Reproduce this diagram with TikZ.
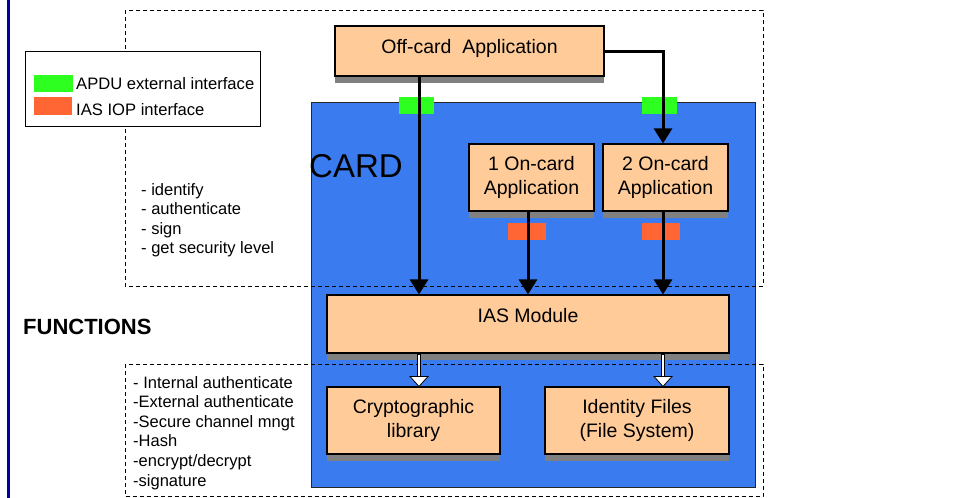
\documentclass[tikz,border=0pt]{standalone}
\usepackage{fontspec}
\setmainfont{Liberation Sans}
\usetikzlibrary{arrows.meta,shadows,calc}
\definecolor{peach}{RGB}{255,204,153}
\definecolor{cardblue}{RGB}{58,123,240}
\definecolor{apdugreen}{RGB}{45,255,32}
\definecolor{ioporange}{RGB}{255,102,51}
\definecolor{navyline}{RGB}{0,0,160}
\definecolor{shadowgray}{RGB}{128,128,128}
\tikzset{
  appbox/.style={draw=black, line width=1.1pt, fill=peach, inner sep=0pt, align=center,
    font=\fontsize{19.5}{24.5}\selectfont,
    drop shadow={shadow xshift=0pt, shadow yshift=-7pt, fill=shadowgray, opacity=1}},
  listtext/.style={inner sep=0pt, align=left, anchor=north west, font=\fontsize{16.5}{19.6}\selectfont},
  legtext/.style={inner sep=0pt, anchor=base west, font=\fontsize{16.6}{19}\selectfont},
  dashbox/.style={draw=black, line width=0.9pt, dash pattern=on 4pt off 3pt},
  flow/.style={line width=3pt, -{Triangle[width=18pt,length=15pt]}},
  hollowshaft/.style={line width=4.2pt, black},
  hollowinner/.style={line width=2.3pt, white},
  hollowhead/.style={line width=0.8pt, draw=black, fill=white, line join=miter},
}
\begin{document}
\begin{tikzpicture}[x=1pt,y=-1pt]
\useasboundingbox (0,0) rectangle (959,498);
% left navy rule
\draw[navyline, line width=2.2pt] (8.5,0) -- (8.5,498);
% card
\node[draw=black!85, line width=0.9pt, fill=cardblue, minimum width=444pt, minimum height=385pt, inner sep=0pt] (card) at (533,294.5) {};
\node[inner sep=0pt, anchor=base west, font=\fontsize{33}{33}\selectfont] (cardlbl) at (309,177) {CARD};
% dashed function boxes
\draw[dashbox] (125,10) rectangle (763,286);
\draw[dashbox] (125,364) rectangle (763,496.5);
% legend
\node[draw=black, line width=0.9pt, fill=white, minimum width=235pt, minimum height=75pt, inner sep=0pt] (legend) at (142.5,88.5) {};
\fill[apdugreen] (34,75) rectangle (73,92);
\fill[ioporange] (34,97) rectangle (72,115);
\node[legtext] (lg1) at (76,89) {APDU external interface};
\node[legtext] (lg2) at (76,115.5) {IAS IOP interface};
% function lists
\node[listtext] (fup) at (141,183) {- identify\\- authenticate\\- sign\\- get security level};
\node[listtext] (flow) at (133,376) {- Internal authenticate\\-External authenticate\\-Secure channel mngt\\-Hash\\-encrypt/decrypt\\-signature};
\node[inner sep=0pt, anchor=base west, font=\bfseries\fontsize{22}{22}\selectfont] (functions) at (23,334) {FUNCTIONS};
% boxes
\node[appbox, minimum width=269pt, minimum height=50pt, text depth=9pt] (offcard) at (469.5,51) {Off-card\ \ Application};
\node[appbox, minimum width=125pt, minimum height=67pt] (app1) at (531.5,177.5) {1 On-card\\Application};
\node[appbox, minimum width=125pt, minimum height=67pt] (app2) at (665.5,177.5) {2 On-card\\Application};
\node[appbox, minimum width=402pt, minimum height=58pt, text depth=17pt] (ias) at (528,324) {IAS Module};
\node[appbox, minimum width=173pt, minimum height=67pt] (cryp) at (413.5,420.5) {Cryptographic\\library};
\node[appbox, minimum width=184pt, minimum height=67pt] (ident) at (637,420.5) {Identity Files\\(File System)};
% interface markers
\fill[apdugreen] (399,97) rectangle (434,114);
\fill[apdugreen] (642,97) rectangle (677,114);
\fill[ioporange] (508,223) rectangle (546,240);
\fill[ioporange] (642,223) rectangle (680,240);
% connector columns
\coordinate (c1) at (419,0);
\coordinate (c2) at (528,0);
\coordinate (c3) at (663,0);
% black flows
\draw[flow] (offcard.south -| c1) -- (ias.north -| c1);
\draw[flow] (offcard.east) -| (app2.north -| c3);
\draw[flow] (app1.south -| c2) -- (ias.north -| c2);
\draw[flow] (app2.south -| c3) -- (ias.north -| c3);
% hollow flows
\draw[hollowshaft, shorten >=9pt] (ias.south -| c1) -- (cryp.north -| c1);
\draw[hollowinner, shorten >=8pt, shorten <=1pt] (ias.south -| c1) -- (cryp.north -| c1);
\draw[hollowhead] (cryp.north -| c1) -- ++(-9,-10) -- ++(18,0) -- cycle;
\draw[hollowshaft, shorten >=9pt] (ias.south -| c3) -- (ident.north -| c3);
\draw[hollowinner, shorten >=8pt, shorten <=1pt] (ias.south -| c3) -- (ident.north -| c3);
\draw[hollowhead] (ident.north -| c3) -- ++(-9,-10) -- ++(18,0) -- cycle;
\end{tikzpicture}
\end{document}
